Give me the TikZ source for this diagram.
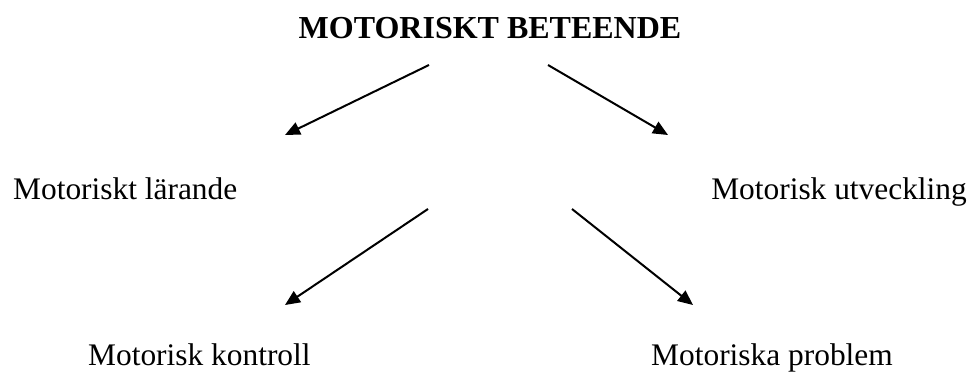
\documentclass[tikz,border=0pt]{standalone}
\usepackage{fontspec}
\setmainfont{Liberation Serif}
\usetikzlibrary{arrows.meta}
\begin{document}
\begin{tikzpicture}[x=1pt,y=-1pt,
  label text/.style={inner sep=0pt, anchor=base west, font=\fontsize{31.4}{37}\selectfont},
  title text/.style={inner sep=0pt, anchor=base, font=\fontsize{32}{38}\selectfont\bfseries},
  link/.style={line width=2pt, -{Triangle[length=15pt,width=13pt]}}]
\useasboundingbox (0,0) rectangle (971,374);
% texts
\node[title text] (top) at (490,39) {MOTORISKT BETEENDE};
\node[label text] (learn) at (13,200) {Motoriskt lärande};
\node[label text, anchor=base east] (dev) at (967,200) {Motorisk utveckling};
\node[label text] (ctrl) at (88,365) {Motorisk kontroll};
\node[label text] (prob) at (651,365) {Motoriska problem};
% arrow ends
\coordinate (a1) at (429,65);
\coordinate (b1) at (285,135);
\coordinate (a2) at (548,65);
\coordinate (b2) at (668,135);
\coordinate (a3) at (428,209);
\coordinate (b3) at (285,305);
\coordinate (a4) at (572,209);
\coordinate (b4) at (693,305);
\draw[link] (a1) -- (b1);
\draw[link] (a2) -- (b2);
\draw[link] (a3) -- (b3);
\draw[link] (a4) -- (b4);
\end{tikzpicture}
\end{document}
